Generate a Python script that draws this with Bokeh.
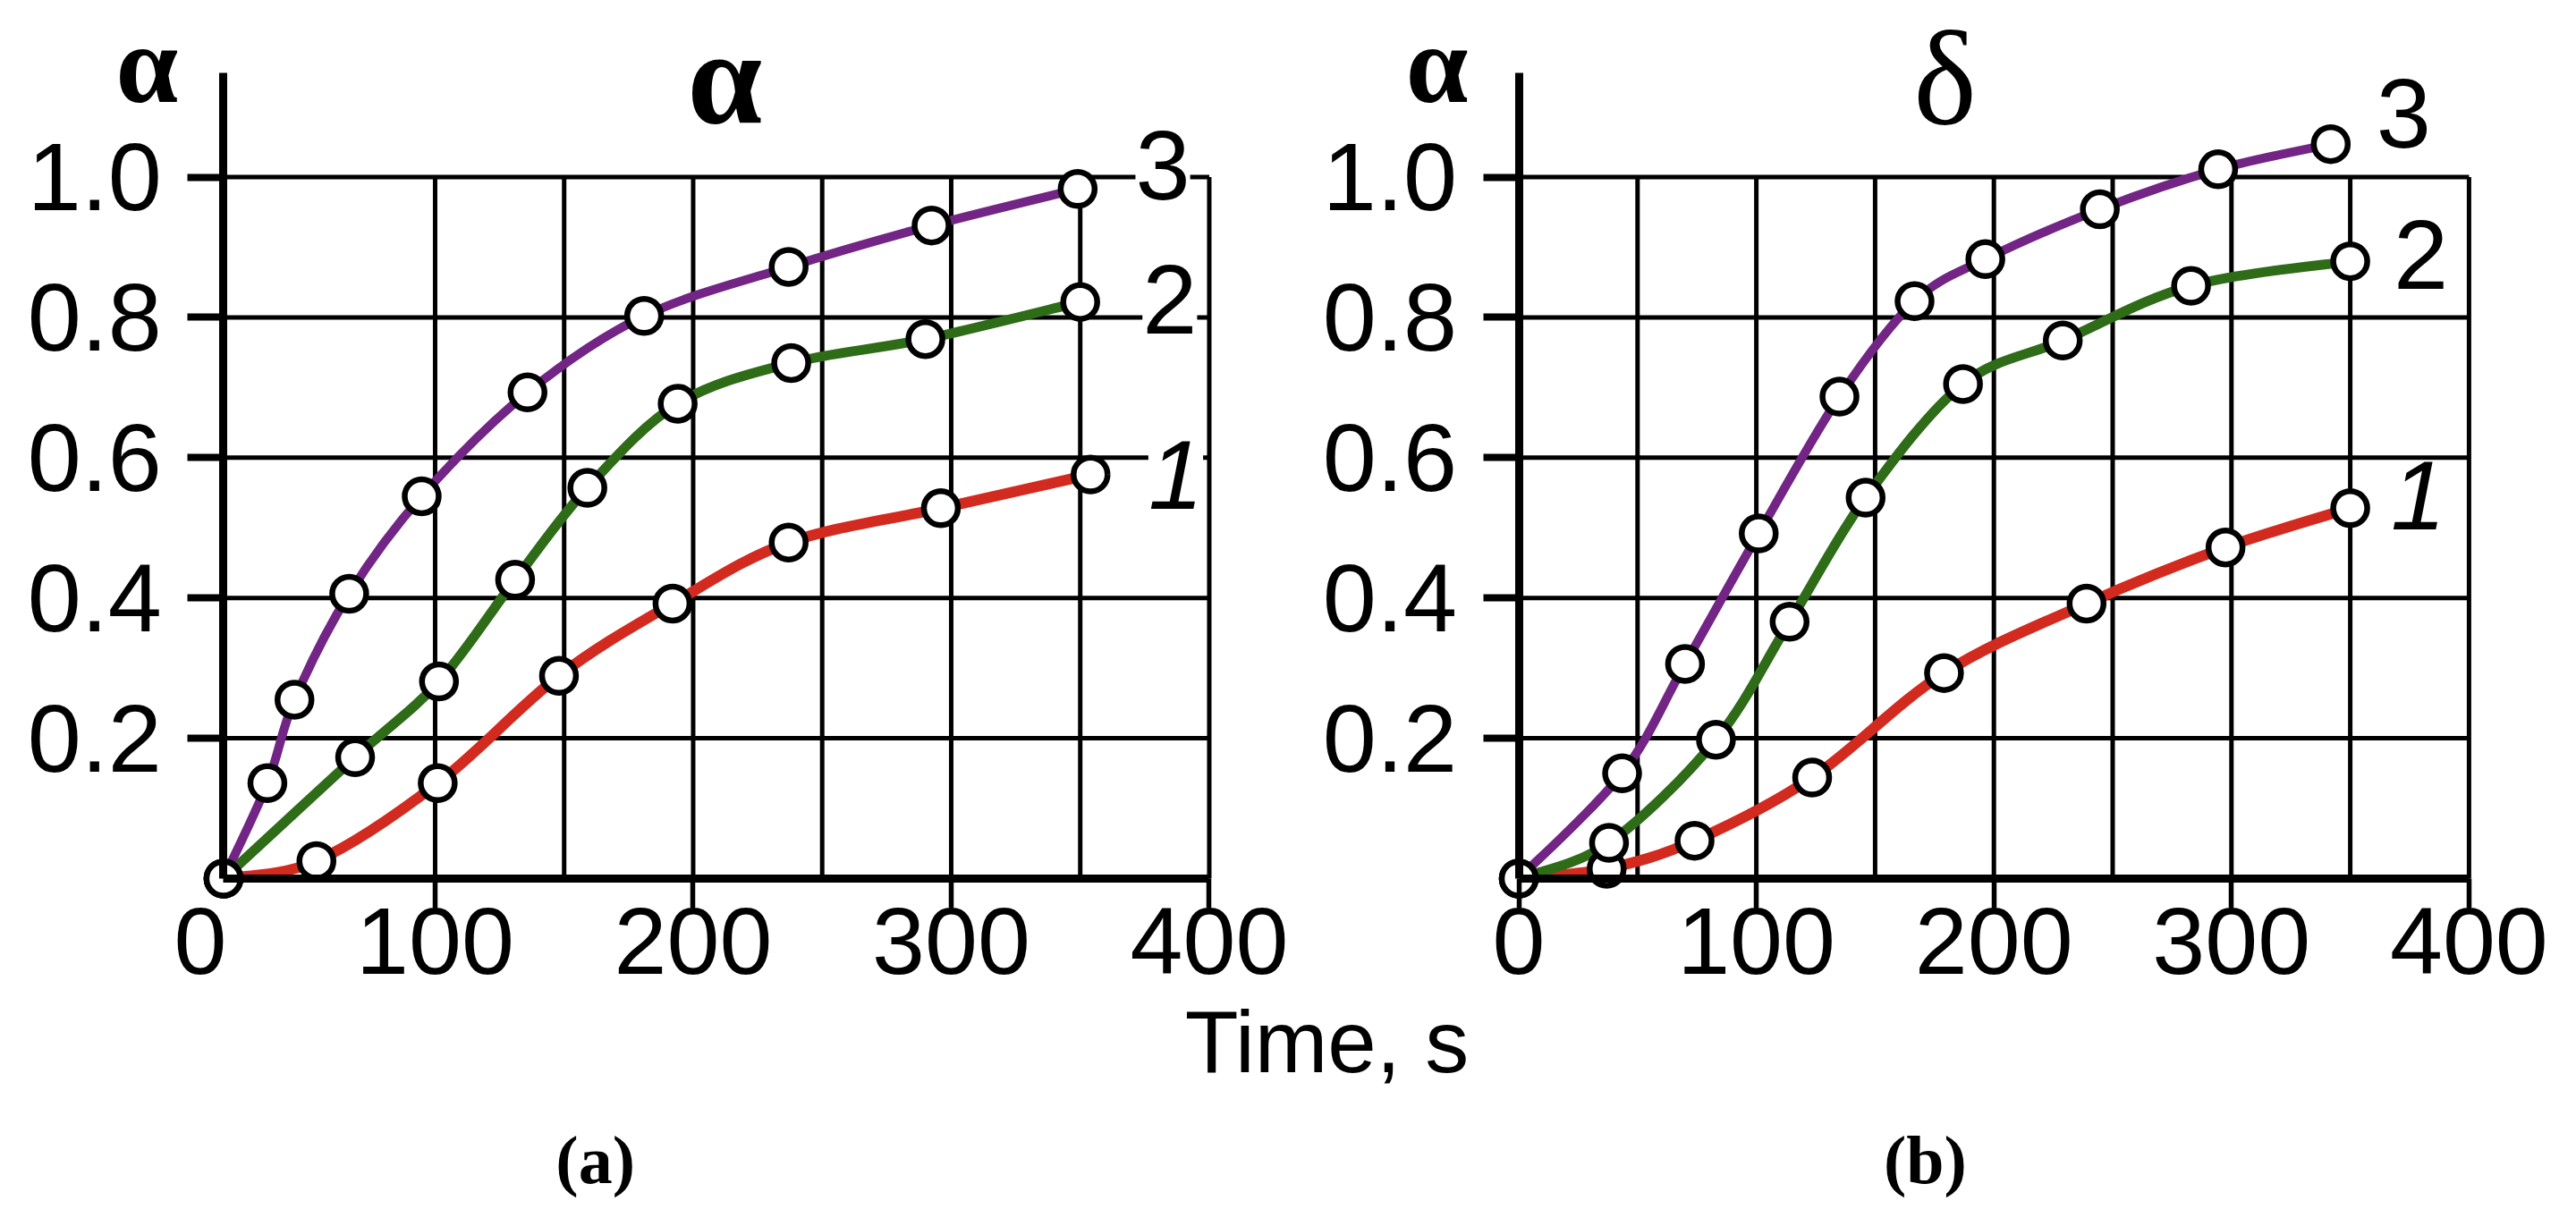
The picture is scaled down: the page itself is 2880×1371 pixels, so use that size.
import numpy as np
from bokeh.plotting import figure
from bokeh.models import LinearAxis, FixedTicker, Range1d, Label
from bokeh.embed import file_html
from bokeh.resources import INLINE

# ---------------- data ----------------
# panel (a)  -- curves 1, 2, 3
a_t1 = [18, 54, 101, 148, 192, 237, 296, 354]
a_y1 = [0.0, 0.025, 0.136, 0.289, 0.392, 0.479, 0.528, 0.576]
a_t2 = [18, 69, 101.5, 131, 159, 194, 238, 290, 350]
a_y2 = [0.0, 0.173, 0.281, 0.426, 0.557, 0.677, 0.735, 0.769, 0.822]
a_t3 = [18, 35, 45.5, 66.7, 94.8, 135.8, 181, 237, 292.4, 349]
a_y3 = [0.0, 0.136, 0.255, 0.406, 0.545, 0.693, 0.802, 0.872, 0.931, 0.983]

# panel (b)
b_t1 = [0, 37, 74, 123.5, 179, 239, 297.5, 350]
b_y1 = [0.0, 0.014, 0.054, 0.144, 0.293, 0.392, 0.472, 0.528]
b_t2 = [0, 38, 83, 114, 146, 187, 229, 283, 350]
b_y2 = [0.0, 0.051, 0.198, 0.366, 0.543, 0.705, 0.767, 0.845, 0.880]
b_t3 = [0, 43.5, 70, 101, 135, 166.6, 196.4, 244.6, 294.4, 341.8]
b_y3 = [0.0, 0.150, 0.306, 0.492, 0.687, 0.823, 0.883, 0.954, 1.011, 1.047]

x_tick_vals = [0, 100, 200, 300, 400]
y_tick_vals = [0.2, 0.4, 0.6, 0.8, 1.0]
y_tick_text = ["0.2", "0.4", "0.6", "0.8", "1.0"]
a_vgrid = [100, 150, 200, 250, 300, 350, 400]
b_vgrid = [50, 100, 150, 200, 250, 300, 350, 400]

series_names = ["1", "2", "3"]
colors = ["#D32A1F", "#2E6C18", "#722585"]
widths = [12, 11, 10]

SANS = "Liberation Sans"
SERIF = "Liberation Serif"

# ---------------- page geometry (pixels, page coordinates) ----------------
W, H = 2864, 1355
PAGE0 = 8
Y0_PAGE = 990.0            # y = 0
PX_PER_Y = 784.5
AX_TOP_PAGE = 89.0         # top end of the y axes
A_AXIS_PAGE, A_AXIS_T, A_PX = 257.4, 18.0, 2.885    # panel a: axis at t = 18
B_AXIS_PAGE, B_AXIS_T, B_PX = 1705.5, 0.0, 2.656    # panel b: axis at t = 0


def yv(page_y):
    return (Y0_PAGE - page_y) / PX_PER_Y


def x_range_for(axis_page, axis_t, px):
    return Range1d(axis_t + (PAGE0 - axis_page) / px,
                   axis_t + (PAGE0 + W - axis_page) / px)


def bezier_parts(xs, ys):
    x = np.asarray(xs, float)
    y = np.asarray(ys, float)
    xp = np.concatenate([[x[0]], x, [x[-1]]])
    yp = np.concatenate([[y[0]], y, [y[-1]]])
    n = len(x)
    cx0 = xp[1:n] + (xp[2:n + 1] - xp[0:n - 1]) / 6.0
    cy0 = yp[1:n] + (yp[2:n + 1] - yp[0:n - 1]) / 6.0
    cx1 = xp[2:n + 1] - (xp[3:n + 2] - xp[1:n]) / 6.0
    cy1 = yp[2:n + 1] - (yp[3:n + 2] - yp[1:n]) / 6.0
    return dict(x0=x[:-1], y0=y[:-1], x1=x[1:], y1=y[1:],
                cx0=cx0, cy0=cy0, cx1=cx1, cy1=cy1)


p = figure(width=W, height=H, title=None,
           x_range=x_range_for(A_AXIS_PAGE, A_AXIS_T, A_PX),
           y_range=Range1d(yv(PAGE0 + H), yv(PAGE0)),
           min_border=0, x_axis_type=None, y_axis_type=None,
           toolbar_location=None, output_backend="svg")
p.extra_x_ranges = {"b": x_range_for(B_AXIS_PAGE, B_AXIS_T, B_PX)}
p.outline_line_color = None
p.background_fill_color = "white"
p.border_fill_color = "white"


def text_label(x, y, text, rn, size, font=SANS, style="normal", bg=None, pad=0):
    kw = dict(x=x, y=y, text=text, x_range_name=rn, text_font=font,
              text_font_size=size, text_font_style=style,
              text_align="center", text_baseline="middle", text_color="black")
    if bg is not None:
        kw.update(background_fill_color=bg, padding=pad)
    p.add_layout(Label(**kw))


def style_x_axis(ax):
    ax.major_tick_out = 33
    ax.major_tick_in = 0
    ax.minor_tick_line_color = None
    ax.major_label_standoff = 0
    ax.major_label_text_font = SANS
    ax.major_label_text_font_size = "106px"
    ax.major_label_text_color = "black"


def add_panel(rn, x0, vgrid, xticks, series, title, title_xy, title_style,
              ylab_x, labels, zero_label_x=None):
    # grid lines
    p.segment(x0=vgrid, y0=[0] * len(vgrid), x1=vgrid, y1=[1.0] * len(vgrid),
              line_color="black", line_width=5, x_range_name=rn)
    p.segment(x0=[x0] * len(y_tick_vals), y0=y_tick_vals,
              x1=[400] * len(y_tick_vals), y1=y_tick_vals,
              line_color="black", line_width=5, x_range_name=rn)

    # x axis
    xa = LinearAxis(ticker=FixedTicker(ticks=xticks), fixed_location=0,
                    bounds=(x0, 400), x_range_name=rn)
    xa.axis_line_width = 9
    xa.major_tick_line_width = 5.5
    style_x_axis(xa)
    p.add_layout(xa, "below")

    if zero_label_x is not None:
        za = LinearAxis(ticker=FixedTicker(ticks=[zero_label_x]), fixed_location=0,
                        major_label_overrides={zero_label_x: "0"}, x_range_name=rn)
        za.axis_line_color = None
        za.major_tick_line_color = None
        style_x_axis(za)
        p.add_layout(za, "below")

    # y axis
    ya = LinearAxis(ticker=FixedTicker(ticks=y_tick_vals), fixed_location=x0,
                    bounds=(0, yv(AX_TOP_PAGE)), x_range_name=rn,
                    major_label_overrides=dict(zip(y_tick_vals, y_tick_text)))
    ya.axis_line_width = 9
    ya.major_tick_line_width = 8
    ya.major_tick_out = 40
    ya.major_tick_in = 0
    ya.minor_tick_line_color = None
    ya.major_label_standoff = 29
    ya.major_label_text_font = SANS
    ya.major_label_text_font_size = "108px"
    ya.major_label_text_color = "black"
    p.add_layout(ya, "left")

    # curves and markers
    for (t, v), c, w in zip(series, colors, widths):
        p.bezier(line_color=c, line_width=w, x_range_name=rn, **bezier_parts(t, v))
    for (t, v) in series:
        p.scatter(t, v, marker="circle", size=38, fill_color="white",
                  line_color="black", line_width=6.5, x_range_name=rn)

    # texts
    text_label(title_xy[0], title_xy[1], title, rn, "150px", font=SERIF,
               style=title_style)
    text_label(ylab_x, yv(79), "α", rn, "125px", font=SERIF, style="bold")
    for name, (lx, ly) in zip(series_names, labels):
        text_label(lx, ly, name, rn, "110px",
                   style="italic" if name == "1" else "normal", bg="white")


add_panel("default", A_AXIS_T, a_vgrid, x_tick_vals[1:],
          [(a_t1, a_y1), (a_t2, a_y2), (a_t3, a_y3)],
          "α", (212.3, yv(94)), "bold", -11.6,
          [(387, 0.575), (384.7, 0.825), (382, 1.017)], zero_label_x=9)

add_panel("b", B_AXIS_T, b_vgrid, x_tick_vals,
          [(b_t1, b_y1), (b_t2, b_y2), (b_t3, b_y3)],
          "δ", (179.4, yv(95)), "normal", -34.4,
          [(378.6, 0.546), (379.7, 0.889), (372.5, 1.091)])

# common axis title and panel captions
text_label(445.6, yv(1172), "Time, s", "default", "98px")
text_label(162.1, yv(1304), "(a)", "default", "76px", font=SERIF, style="bold")
text_label(171.1, yv(1304), "(b)", "b", "76px", font=SERIF, style="bold")

open("out.html", "w").write(file_html(p, INLINE))
